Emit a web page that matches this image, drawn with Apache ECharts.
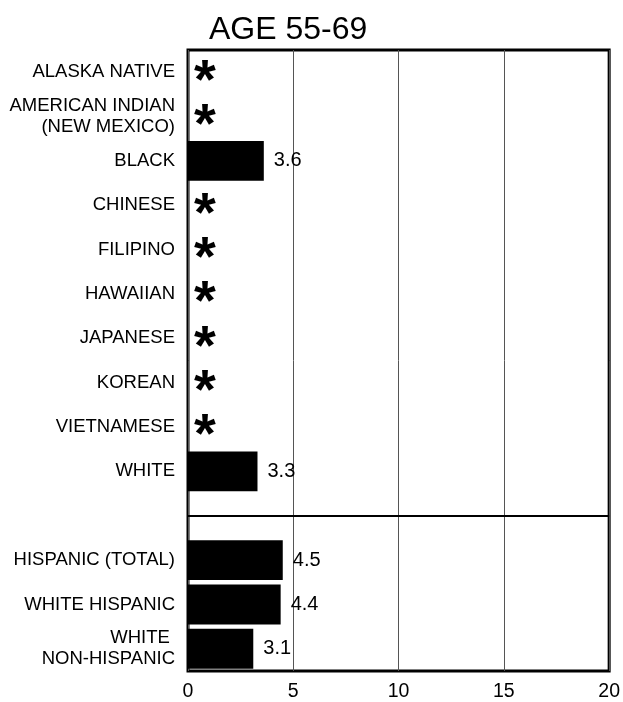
<!DOCTYPE html>
<html>
<head>
<meta charset="utf-8">
<script src="https://cdn.jsdelivr.net/npm/echarts@6/dist/echarts.min.js"></script>
<style>
  html, body { margin: 0; padding: 0; background: #fff; }
  #chart { width: 623px; height: 702px; }
</style>
</head>
<body>
<div id="chart"></div>
<script>
// rows top to bottom; '' is the empty spacer row above the hispanic group
var categories = [
    'ALASKA NATIVE', 'AMERICAN INDIAN\n(NEW MEXICO)', 'BLACK', 'CHINESE',
    'FILIPINO', 'HAWAIIAN', 'JAPANESE', 'KOREAN', 'VIETNAMESE', 'WHITE',
    '', 'HISPANIC (TOTAL)', 'WHITE HISPANIC', 'WHITE \nNON-HISPANIC'
];
// '*' = rate not shown (too few cases), null = spacer row
var rates = ['*', '*', 3.6, '*', '*', '*', '*', '*', '*', 3.3, null, 4.5, 4.4, 3.1];
var xTicks = [0, 5, 10, 15, 20];
var titleText = 'AGE 55-69';

var FONT = '"Liberation Sans", Arial, sans-serif';

function loadChart(){
    var myChart = echarts.init(document.getElementById('chart'));

    var barData = rates.map(function (r) {
        if (r === '*') {
            return {
                value: 0,
                label: {
                    formatter: '*',
                    fontSize: 56,
                    fontWeight: 'bold',
                    distance: 6,
                    offset: [0, 10]
                }
            };
        }
        return r;
    });

    myChart.setOption({
        animation: false,
        textStyle: { fontFamily: FONT },
        title: {
            text: titleText,
            left: 204,
            top: 9,
            textStyle: { fontFamily: FONT, fontSize: 32, fontWeight: 'normal', color: '#000' }
        },
        grid: {
            left: 188,
            right: 13,
            top: 50,
            bottom: 30,
            show: true,
            borderColor: '#000',
            borderWidth: 3,
            containLabel: false
        },
        xAxis: {
            type: 'value',
            min: xTicks[0],
            max: xTicks[xTicks.length - 1],
            interval: 5,
            axisLine: { show: false },
            axisTick: { show: false },
            splitLine: { show: true, lineStyle: { color: '#555', width: 1 } },
            axisLabel: { fontFamily: FONT, fontSize: 19.5, color: '#000', margin: 11 }
        },
        yAxis: {
            type: 'category',
            inverse: true,
            data: categories,
            axisLine: { show: false },
            axisTick: { show: false },
            splitLine: { show: false },
            axisLabel: {
                fontFamily: FONT, fontSize: 18.5, color: '#000',
                margin: 13, align: 'right', lineHeight: 21
            }
        },
        series: [{
            type: 'bar',
            data: barData,
            barCategoryGap: '10%',
            itemStyle: { color: '#000' },
            label: {
                show: true,
                position: 'right',
                distance: 10,
                fontFamily: FONT,
                fontSize: 20,
                color: '#000'
            },
            markLine: {
                silent: true,
                symbol: 'none',
                label: { show: false },
                lineStyle: { color: '#000', width: 2, type: 'solid' },
                data: [{ yAxis: 10 }]
            }
        }]
    });
}
loadChart();
</script>
</body>
</html>
